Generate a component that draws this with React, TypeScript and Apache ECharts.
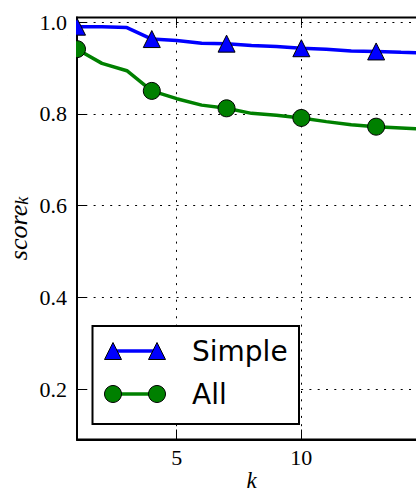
import React, { useEffect, useRef } from 'react';
import * as echarts from 'echarts';

const kValues = [1, 2, 3, 4, 5, 6, 7, 8, 9, 10, 11, 12, 13, 14, 15];
const simpleScores = [0.990, 0.990, 0.988, 0.963, 0.960, 0.954, 0.953, 0.949, 0.947, 0.943, 0.941, 0.937, 0.936, 0.934, 0.933];
const allScores = [0.941, 0.910, 0.894, 0.850, 0.833, 0.819, 0.812, 0.801, 0.797, 0.791, 0.783, 0.776, 0.772, 0.769, 0.766];
const xTicks = [5, 10, 15];
const xTickLabels = [5, 10];
const yTicks = [0.2, 0.4, 0.6, 0.8, 1.0];
const seriesNames = ['Simple', 'All'];
const markerEvery = 3;

export default function App() {
  const ref = useRef<HTMLDivElement>(null);
  useEffect(() => {
    const chart = echarts.init(ref.current!, null, { renderer: 'svg' });
    const serif = "'Liberation Serif', 'DejaVu Serif', serif";
    const sans = "'DejaVu Sans', sans-serif";
    const dotted = { color: '#000', width: 1, type: [2, 6.3] as any };
    const mkData = (vals: number[]) =>
      kValues.map((k, i) => (i % markerEvery === 0 ? [k, vals[i]] : { value: [k, vals[i]], symbol: 'none' }));
    const mkSeries = (name: string, vals: number[], color: string, symbol: string) => ({
      name,
      type: 'line',
      data: mkData(vals),
      symbol,
      symbolSize: 17,
      showSymbol: true,
      showAllSymbol: true,
      lineStyle: { color, width: 3.5 },
      itemStyle: { color, borderColor: '#000', borderWidth: 1 },
      emphasis: { disabled: true },
      silent: true,
    });
    const lx1 = 113, lx2 = 157, ly1 = 351, ly2 = 394, ms = 8.5;
    chart.setOption({
      animation: false,
      grid: {
        left: 77, top: 17.5, right: -10, bottom: 55.5, outerBoundsMode: 'none', containLabel: false,
        show: true, borderColor: '#000', borderWidth: 2, backgroundColor: 'transparent',
      },
      xAxis: [
        {
          type: 'value', min: 1, max: 15,
          name: 'k', nameLocation: 'middle', nameGap: 31, nameMoveOverlap: false,
          nameTextStyle: { fontFamily: serif, fontStyle: 'italic', fontSize: 23, lineHeight: 20, color: '#000' },
          axisLine: { show: true, onZero: false, lineStyle: { color: '#000', width: 2 } },
          axisTick: { show: true, inside: true, length: 10, lineStyle: { color: '#000', width: 1 }, customValues: xTicks },
          axisLabel: { customValues: xTickLabels, formatter: (v: number) => String(v), fontFamily: serif, fontSize: 22, color: '#000', margin: 7 },
          splitLine: { show: true, lineStyle: dotted },
        },
        {
          type: 'value', min: 1, max: 15, position: 'top',
          axisLine: { show: false },
          axisTick: { show: true, inside: true, length: 8, lineStyle: { color: '#000', width: 1 }, customValues: xTicks },
          axisLabel: { show: false },
          splitLine: { show: false },
        },
      ],
      yAxis: {
        type: 'value', min: 0.09, max: 1.01,
        name: '{s|score}{k|k}', nameLocation: 'middle', nameGap: 46, nameRotate: 90, nameMoveOverlap: false,
        nameTextStyle: {
          color: '#000',
          rich: {
            s: { fontFamily: serif, fontStyle: 'italic', fontSize: 26, color: '#000' },
            k: { fontFamily: serif, fontStyle: 'italic', fontSize: 18, color: '#000', verticalAlign: 'bottom', padding: [8, 0, 0, 0] },
          },
        },
        axisLine: { show: true, onZero: false, lineStyle: { color: '#000', width: 2 } },
        axisTick: { show: true, inside: true, length: 10, lineStyle: { color: '#000', width: 1 }, customValues: yTicks },
        axisLabel: { customValues: yTicks, formatter: (v: number) => v.toFixed(1), fontFamily: serif, fontSize: 22, color: '#000', margin: 10 },
        splitLine: { show: true, lineStyle: dotted },
      },
      series: [
        mkSeries(seriesNames[0], simpleScores, '#0000ff', 'triangle'),
        mkSeries(seriesNames[1], allScores, '#008000', 'circle'),
      ],
      graphic: [
        { type: 'rect', z: 100, shape: { x: 67.5, y: 10, width: 8.5, height: 60 }, style: { fill: '#fff' }, silent: true },
        { type: 'rect', z: 100, shape: { x: 92.5, y: 326, width: 206.5, height: 98 }, style: { fill: '#fff', stroke: '#000', lineWidth: 2 }, silent: true },
        { type: 'line', z: 101, shape: { x1: lx1, y1: ly1, x2: lx2, y2: ly1 }, style: { stroke: '#0000ff', lineWidth: 3.5 }, silent: true },
        { type: 'polygon', z: 102, shape: { points: [[lx1 - ms, ly1 + ms], [lx1, ly1 - ms], [lx1 + ms, ly1 + ms]] }, style: { fill: '#0000ff', stroke: '#000', lineWidth: 1 }, silent: true },
        { type: 'polygon', z: 102, shape: { points: [[lx2 - ms, ly1 + ms], [lx2, ly1 - ms], [lx2 + ms, ly1 + ms]] }, style: { fill: '#0000ff', stroke: '#000', lineWidth: 1 }, silent: true },
        { type: 'line', z: 101, shape: { x1: lx1, y1: ly2, x2: lx2, y2: ly2 }, style: { stroke: '#008000', lineWidth: 3.5 }, silent: true },
        { type: 'circle', z: 102, shape: { cx: lx1, cy: ly2, r: ms }, style: { fill: '#008000', stroke: '#000', lineWidth: 1 }, silent: true },
        { type: 'circle', z: 102, shape: { cx: lx2, cy: ly2, r: ms }, style: { fill: '#008000', stroke: '#000', lineWidth: 1 }, silent: true },
        { type: 'text', z: 102, x: 192, y: ly1, style: { text: seriesNames[0], fontFamily: sans, fontSize: 28, fill: '#000', align: 'left', verticalAlign: 'middle' }, silent: true },
        { type: 'text', z: 102, x: 192, y: ly2, style: { text: seriesNames[1], fontFamily: sans, fontSize: 28, fill: '#000', align: 'left', verticalAlign: 'middle' }, silent: true },
      ],
    });
    return () => chart.dispose();
  }, []);
  return (
    <div style={{ position: 'fixed', left: 0, top: 0, width: 416, height: 495, overflow: 'hidden', background: '#fff' }}>
      <div ref={ref} style={{ width: 416, height: 495 }} />
    </div>
  );
}
